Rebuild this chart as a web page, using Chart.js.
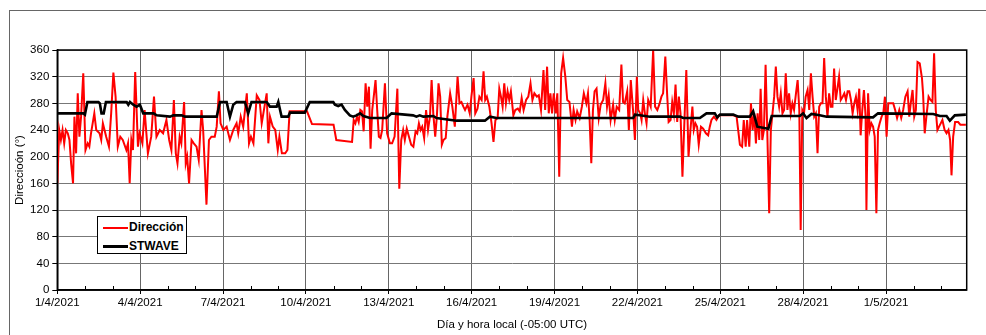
<!DOCTYPE html>
<html>
<head>
<meta charset="utf-8">
<script src="https://cdn.jsdelivr.net/npm/chart.js@4/dist/chart.umd.min.js"></script>
<style>
  html, body { margin: 0; padding: 0; background: #fff; }
  #wrap { position: relative; width: 986px; height: 335px; }
  #marcoExt { position: absolute; left: 9px; top: 10px; right: 0; bottom: 0; border-left: 1px solid #666; border-top: 1px solid #666; }
  #leyenda { position: absolute; left: 97px; top: 216px; width: 88px; height: 36px; border: 1px solid #000; background: #fff;
             font: bold 12px "Liberation Sans", Arial, sans-serif; color: #000; }
  .fila { position: absolute; left: 5px; height: 14px; line-height: 14px; white-space: nowrap; }
  .fila span.linea { display: inline-block; width: 25px; vertical-align: middle; margin-right: 1px; }
</style>
</head>
<body>
<div id="wrap">
  <div id="marcoExt"></div>
  <canvas id="grafico" width="986" height="335"></canvas>
  <div id="leyenda">
    <div class="fila" style="top:3px"><span class="linea" style="border-top:2px solid #ff0000"></span>Dirección</div>
    <div class="fila" style="top:22px"><span class="linea" style="border-top:3px solid #000"></span>STWAVE</div>
  </div>
</div>
<script>
// tiempo en días desde el 1/4/2021 00:00
var diasDir = [0.00,0.07,0.13,0.19,0.25,0.31,0.38,0.44,0.50,0.57,0.62,0.68,0.74,0.80,0.86,0.94,1.02,1.10,1.16,1.22,
  1.34,1.41,1.53,1.59,1.65,1.77,1.87,1.95,2.03,2.11,2.19,2.28,2.37,2.50,2.56,2.62,2.68,2.74,2.82,2.92,
  2.98,3.08,3.16,3.28,3.40,3.50,3.59,3.71,3.83,3.95,4.05,4.13,4.22,4.29,4.35,4.43,4.49,4.59,4.65,4.70,
  4.77,4.86,4.94,5.04,5.12,5.22,5.28,5.40,5.49,5.58,5.70,5.77,5.85,5.91,6.01,6.13,6.25,6.37,6.49,6.55,
  6.64,6.73,6.86,6.94,7.01,7.10,7.22,7.32,7.40,7.46,7.58,7.64,7.70,7.80,7.89,7.98,8.04,8.13,8.25,8.33,
  8.41,9.04,9.22,10.00,10.10,10.67,
  10.73,10.79,10.85,10.91,10.97,11.03,11.09,11.16,11.22,11.28,11.34,11.40,11.46,11.52,11.58,11.64,11.70,11.76,11.86,11.94,
  12.04,12.12,12.21,12.31,12.38,12.45,12.52,12.58,12.65,12.73,12.81,12.89,12.97,13.03,13.09,13.15,13.21,13.28,13.35,13.42,
  13.49,13.55,13.61,13.68,13.74,13.80,13.86,13.92,13.98,14.06,14.12,14.22,14.30,14.39,14.49,14.56,14.63,14.70,14.76,14.85,
  14.93,14.99,15.07,15.13,15.21,15.28,15.36,15.43,15.49,15.55,15.64,15.72,15.79,15.86,15.94,16.00,16.06,16.12,16.18,16.24,
  16.30,16.36,16.42,16.51,16.58,16.67,16.74,16.81,16.88,16.97,17.05,17.13,17.20,17.27,17.36,17.43,17.51,17.60,17.66,17.73,
  17.79,17.85,17.91,17.97,18.04,18.10,18.17,18.24,18.31,18.39,18.46,18.54,18.63,18.69,18.76,18.82,18.91,18.99,19.06,19.15,
  19.21,19.27,19.33,19.39,19.45,19.52,19.60,19.67,19.76,19.84,19.90,19.96,20.03,20.12,20.18,20.25,20.34,20.42,20.48,20.54,
  20.63,20.69,20.76,20.85,20.91,20.98,21.03,21.10,
  21.15,21.21,21.27,21.33,21.39,21.48,21.57,21.64,21.72,21.79,21.87,21.93,22.01,22.08,22.13,22.20,22.26,22.32,22.38,22.44,
  22.50,22.56,22.63,22.69,22.77,22.85,22.92,22.99,23.04,23.10,23.16,23.22,23.30,23.38,23.48,23.56,23.62,23.68,23.77,23.86,
  23.95,24.05,24.47,24.59,24.71,24.79,24.85,24.92,24.97,25.05,25.11,25.17,25.23,25.29,25.35,25.41,25.46,25.52,25.58,25.64,
  25.70,25.77,25.83,25.89,25.95,26.01,26.07,26.13,26.19,26.25,26.31,26.37,26.43,26.49,26.55,26.61,26.67,26.74,26.80,26.86,
  26.91,26.97,27.03,27.09,27.16,27.22,27.28,27.34,27.40,27.46,27.52,27.58,27.64,27.70,27.76,27.82,27.88,27.94,28.00,28.06,
  28.12,28.18,28.24,28.30,28.36,28.43,28.49,28.55,28.61,28.67,28.73,28.79,28.85,28.91,28.97,29.03,29.08,29.14,29.20,29.26,
  29.29,29.35,29.41,29.47,29.53,29.59,29.65,29.71,29.77,29.84,29.90,29.96,30.02,30.08,30.14,30.26,30.33,30.40,30.48,30.55,
  30.62,30.70,30.78,30.84,30.90,30.96,31.02,31.08,31.14,31.22,31.30,31.34,31.40,31.46,31.54,31.61,31.68,31.74,31.80,31.86,
  31.92,31.98,32.04,32.12,32.19,32.26,32.32,32.37,32.43,32.50,32.61,32.69,32.89];

var direccion = [160,240,225,240,220,240,235,225,190,160,260,205,295,230,260,325,210,220,215,235,
  265,240,235,225,250,230,215,265,326,290,215,230,225,210,220,160,225,210,327,215,
  235,220,270,205,230,290,230,240,235,255,225,210,285,205,190,230,220,282,190,200,
  160,225,220,215,195,270,240,128,225,230,230,245,298,250,240,245,225,240,250,235,
  260,245,295,220,230,220,292,285,250,265,295,220,260,245,240,210,230,205,205,210,
  268,268,249,248,225,222,
  255,250,260,252,270,268,238,310,275,305,212,270,292,315,270,230,228,240,310,235,
  220,220,230,302,152,225,240,225,242,230,218,215,238,235,250,240,245,228,270,240,
  260,315,265,230,260,310,290,218,225,228,260,295,275,245,320,280,282,275,270,278,
  265,290,318,265,272,290,285,328,285,290,275,250,222,255,258,302,290,275,310,280,
  298,285,298,262,270,272,268,288,270,285,290,310,285,295,290,292,270,330,270,335,
  265,295,265,295,265,295,170,325,348,320,285,282,245,270,255,268,258,275,295,280,
  295,255,190,270,298,302,258,278,285,310,275,292,255,278,255,275,270,338,282,280,
  298,240,315,265,225,320,270,265,
  255,285,265,250,285,275,360,275,270,278,290,295,350,290,252,255,282,265,308,252,
  290,265,170,240,330,200,240,275,240,250,245,218,245,242,235,232,245,255,260,255,
  262,262,262,260,218,215,255,215,255,215,280,240,265,220,265,225,302,225,240,338,
  240,115,240,265,290,335,290,275,295,265,270,325,270,295,265,280,270,295,315,270,
  90,270,265,290,300,270,325,290,260,265,205,275,280,280,348,290,260,295,275,275,
  332,285,302,320,285,290,295,285,298,298,285,265,280,290,270,302,232,270,300,260,
  120,295,240,250,245,230,115,240,250,260,265,290,230,280,280,280,270,258,270,258,
  270,290,298,260,282,300,260,270,342,340,318,295,235,260,290,285,282,355,270,240,
  245,250,255,240,235,240,225,172,230,252,252,248,248];

var diasSt = [0,0.94,1.00,1.09,1.49,1.54,1.60,1.68,1.76,2.51,2.57,2.63,2.75,2.87,2.99,3.11,3.48,3.60,4.08,4.20,
  4.50,4.62,5.77,5.89,6.13,6.25,6.37,6.49,6.79,6.91,7.03,7.58,7.70,7.94,8.00,8.12,8.36,8.42,8.96,9.14,
  9.99,10.05,10.17,10.29,10.41,10.59,10.71,10.83,10.96,11.08,11.32,11.92,12.10,12.88,13.00,13.12,13.25,13.61,13.73,14.45,
  15.48,15.66,15.90,20.85,20.91,21.09,21.45,22.54,22.66,23.26,23.50,23.80,23.89,23.99,24.47,24.65,25.07,25.19,25.34,25.74,
  25.86,26.88,27.00,27.12,27.30,27.60,27.85,29.53,29.71,31.71,31.95,32.19,32.31,32.49,32.89];

var stwave = [265,265,263,282,282,280,265,265,282,282,278,282,278,275,278,265,265,262,260,262,
  262,260,260,282,282,260,278,282,282,265,282,282,275,275,282,260,260,266,266,282,
  282,278,276,278,270,262,260,262,265,261,258,258,265,262,260,262,260,261,258,254,
  254,260,258,258,263,262,260,260,258,258,265,265,259,263,263,260,260,268,245,242,
  261,261,265,258,264,262,260,259,265,264,261,261,254,262,263];

var yTicks = [0, 40, 80, 120, 160, 200, 240, 280, 320, 360];
var diaFinal = 32.92;

function puntos(dias, valores) {
  return dias.map(function (d, i) { return { x: d, y: valores[i] }; });
}

function etiquetaFecha(d) {
  var f = new Date(2021, 3, 1 + Math.round(d));
  return f.getDate() + '/' + (f.getMonth() + 1) + '/' + f.getFullYear();
}

// borde del área de trazado y marcas diarias sobre el eje x
var marcoPlugin = {
  id: 'marco',
  afterDraw: function (chart) {
    var ctx = chart.ctx, a = chart.chartArea, x = chart.scales.x;
    ctx.save();
    ctx.strokeStyle = '#000';
    ctx.lineWidth = 1;
    for (var d = 1; d < diaFinal; d++) {
      if (d % 3 === 0) continue;
      var px = Math.round(x.getPixelForValue(d)) + 0.5;
      ctx.beginPath();
      ctx.moveTo(px, a.bottom);
      ctx.lineTo(px, a.bottom - 4);
      ctx.stroke();
    }
    ctx.lineWidth = 1.5;
    ctx.strokeRect(a.left, a.top, a.right - a.left, a.bottom - a.top);
    ctx.restore();
  }
};

Chart.defaults.font.family = '"Liberation Sans", Arial, sans-serif';
Chart.defaults.font.size = 11.5;
Chart.defaults.color = '#000';

var ctx = document.getElementById('grafico').getContext('2d');
var myChart = new Chart(ctx, {
  type: 'line',
  data: {
    datasets: [{
      label: 'Dirección',
      data: puntos(diasDir, direccion),
      borderColor: '#ff0000',
      borderWidth: 2,
      pointRadius: 0,
      tension: 0,
      fill: false,
      order: 2
    }, {
      label: 'STWAVE',
      data: puntos(diasSt, stwave),
      borderColor: '#000000',
      borderWidth: 2.6,
      pointRadius: 0,
      tension: 0,
      fill: false,
      order: 1
    }]
  },
  options: {
    responsive: false,
    animation: false,
    devicePixelRatio: 1,
    layout: { padding: { top: 50, right: 19.3, left: 0, bottom: 0 } },
    plugins: { legend: { display: false }, tooltip: { enabled: false } },
    scales: {
      x: {
        type: 'linear',
        min: 0,
        max: diaFinal,
        afterFit: function (s) { s.height = 45; },
        ticks: {
          stepSize: 3,
          includeBounds: false,
          autoSkip: false,
          maxRotation: 0,
          padding: 2,
          callback: function (v) { return v % 3 === 0 ? etiquetaFecha(v) : ''; }
        },
        grid: {
          color: '#666',
          lineWidth: 1,
          tickLength: 4,
          tickColor: '#000'
        },
        border: { color: '#000', width: 1.5 },
        title: {
          display: true,
          text: 'Día y hora local (-05:00 UTC)',
          padding: { top: 4, bottom: 3 }
        }
      },
      y: {
        min: 0,
        max: 360,
        afterFit: function (s) { s.width = 57.3; },
        afterBuildTicks: function (s) { s.ticks = yTicks.map(function (v) { return { value: v }; }); },
        ticks: { padding: 3 },
        grid: {
          color: '#777',
          lineWidth: 1,
          tickLength: 5,
          tickColor: '#000'
        },
        border: { color: '#000', width: 1.5 },
        title: {
          display: true,
          text: 'Direccioón (°)',
          padding: { top: 13, bottom: 4 }
        }
      }
    }
  },
  plugins: [marcoPlugin]
});
</script>
</body>
</html>
